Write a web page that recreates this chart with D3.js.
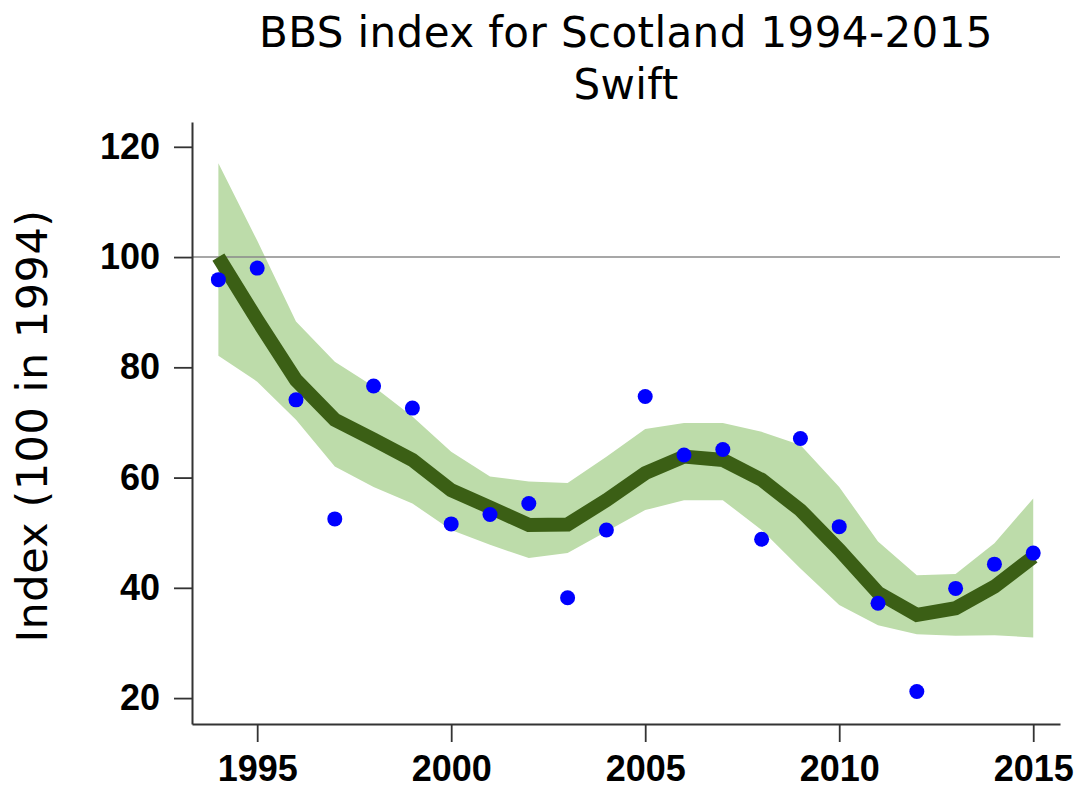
<!DOCTYPE html>
<html>
<head>
<meta charset="utf-8">
<script src="https://cdn.jsdelivr.net/npm/d3@7"></script>
<style>
  body { margin: 0; background: #fff; }
  svg { display: block; }
</style>
</head>
<body>
<svg id="chart" width="1078" height="789"></svg>
<script>
// data
const years = [1994, 1995, 1996, 1997, 1998, 1999, 2000, 2001, 2002, 2003, 2004,
  2005, 2006, 2007, 2008, 2009, 2010, 2011, 2012, 2013, 2014, 2015];
const indexValues = [95.9, 98.0, 74.1, 52.5, 76.6, 72.6, 51.6, 53.3, 55.3, 38.2, 50.5,
  74.7, 64.1, 65.1, 48.8, 67.1, 51.1, 37.2, 21.2, 39.9, 44.3, 46.3];
const trendValues = [100, 88.6, 77.7, 70.5, 66.9, 63.2, 57.7, 54.6, 51.4, 51.5, 55.9,
  60.8, 63.8, 63.2, 59.6, 54.1, 46.9, 39.1, 35.1, 36.3, 40.2, 45.6];
const upperValues = [117.0, 103.0, 88.3, 81.0, 76.5, 71.1, 64.7, 60.2, 59.3, 59.0, 63.8,
  68.8, 69.9, 69.9, 68.3, 65.9, 58.3, 48.4, 42.3, 42.5, 48.1, 56.2];
const lowerValues = [82.1, 77.4, 70.5, 62.0, 58.3, 55.3, 50.5, 47.8, 45.4, 46.3, 50.2,
  54.1, 55.9, 55.9, 50.5, 43.5, 36.9, 33.2, 31.6, 31.3, 31.4, 31.0];
const xTicks = [1995, 2000, 2005, 2010, 2015];
const yTicks = [20, 40, 60, 80, 100, 120];
const baseline = 100;

const titleLines = ["BBS index for Scotland 1994-2015", "Swift"];
const yLabel = "Index (100 in 1994)";

// plot box
const plot = { left: 192, right: 1060, top: 122, bottom: 724 };

const svg = d3.select("#chart");

const x = d3.scaleLinear().domain([1993.32, 2015.69]).range([plot.left, plot.right]);
const y = d3.scaleLinear().domain([15.3, 124.5]).range([plot.bottom, plot.top]);

const rows = years.map((yr, i) => ({
  year: yr, value: indexValues[i], trend: trendValues[i],
  upper: upperValues[i], lower: lowerValues[i]
}));

// confidence band
const band = d3.area()
  .x(d => x(d.year))
  .y0(d => y(d.lower))
  .y1(d => y(d.upper));

svg.append("path")
  .datum(rows)
  .attr("d", band)
  .style("fill", "#bddcaa");

// 100 reference line
svg.append("line")
  .attr("x1", plot.left).attr("x2", plot.right)
  .attr("y1", y(baseline)).attr("y2", y(baseline))
  .style("stroke", "#8a8a8a")
  .style("stroke-width", 1.5);

// smoothed trend
const trendLine = d3.line()
  .x(d => x(d.year))
  .y(d => y(d.trend));

svg.append("path")
  .datum(rows)
  .attr("d", trendLine)
  .style("fill", "none")
  .style("stroke", "#3b5f15")
  .style("stroke-width", 14);

// yearly index points
svg.append("g")
  .selectAll("circle")
  .data(rows)
  .enter()
  .append("circle")
    .attr("cx", d => x(d.year))
    .attr("cy", d => y(d.value))
    .attr("r", 7.5)
    .style("fill", "#0000ff");

// axes
const xAxis = svg.append("g")
  .attr("transform", "translate(0," + plot.bottom + ")")
  .call(d3.axisBottom(x).tickValues(xTicks).tickFormat(d3.format("d"))
    .tickSize(18).tickSizeOuter(0).tickPadding(13));

const yAxis = svg.append("g")
  .attr("transform", "translate(" + plot.left + ",0)")
  .call(d3.axisLeft(y).tickValues(yTicks).tickSize(18).tickSizeOuter(0).tickPadding(14));

[xAxis, yAxis].forEach(g => {
  g.select(".domain").style("stroke", "#333").style("stroke-width", 2);
  g.selectAll(".tick line").style("stroke", "#333").style("stroke-width", 1.8);
  g.selectAll(".tick text")
    .style("font-family", "'Liberation Sans', Arial, sans-serif")
    .style("font-weight", "bold")
    .style("font-size", "36px")
    .style("fill", "#000");
});

// titles
svg.append("g")
  .selectAll("text")
  .data(titleLines)
  .enter()
  .append("text")
    .attr("x", 626)
    .attr("y", (d, i) => 47 + i * 52)
    .attr("text-anchor", "middle")
    .style("font-family", "'DejaVu Sans', Verdana, sans-serif")
    .style("font-size", "42px")
    .style("letter-spacing", "0.4px")
    .style("fill", "#000")
    .text(d => d);

svg.append("text")
  .attr("transform", "translate(47,426) rotate(-90)")
  .attr("text-anchor", "middle")
  .style("font-family", "'DejaVu Sans', Verdana, sans-serif")
  .style("font-size", "43px")
  .style("letter-spacing", "0.5px")
  .style("fill", "#000")
  .text(yLabel);
</script>
</body>
</html>
